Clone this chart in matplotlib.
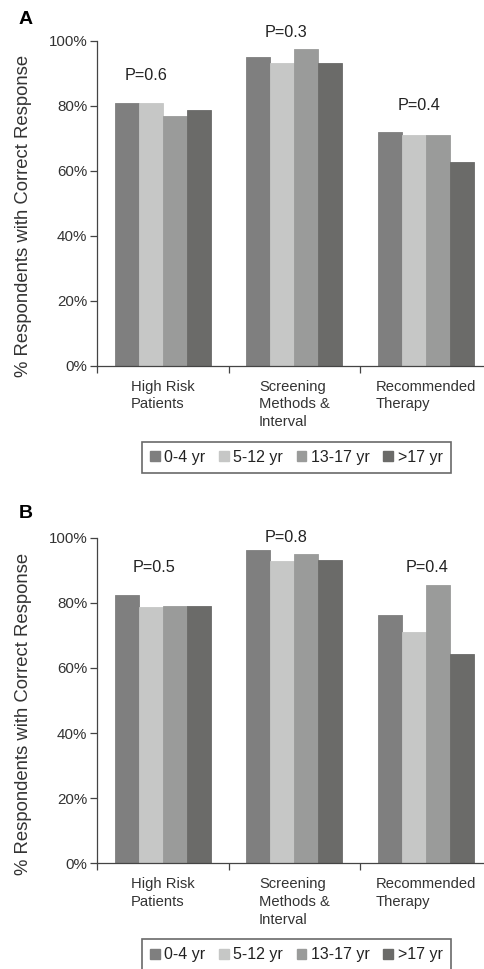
import matplotlib
matplotlib.use('Agg')
import matplotlib.pyplot as plt
import numpy as np
from matplotlib.patches import Patch

plt.rcParams['font.family'] = ['Liberation Sans', 'DejaVu Sans']

categories = ['High Risk\nPatients', 'Screening\nMethods &\nInterval', 'Recommended\nTherapy']
groups = ['0-4 yr', '5-12 yr', '13-17 yr', '>17 yr']
colors = ['#7f7f7f', '#c6c7c6', '#9a9b9a', '#6b6b69']

# panel A values (% correct), one list per age group
a_04 = [80.9, 95.1, 71.8]
a_512 = [80.9, 93.2, 71.0]
a_1317 = [76.9, 97.4, 71.0]
a_17 = [78.7, 93.2, 62.8]
a_pvals = ['P=0.6', 'P=0.3', 'P=0.4']

# panel B values
b_04 = [82.5, 96.3, 76.2]
b_512 = [78.8, 92.9, 71.1]
b_1317 = [79.1, 94.9, 85.5]
b_17 = [79.1, 93.2, 64.4]
b_pvals = ['P=0.5', 'P=0.8', 'P=0.4']

# where the P labels sit (x in category units, y in %)
a_ppos = [(0.37, 89.2), (1.44, 102.6), (2.45, 80.1)]
b_ppos = [(0.43, 90.7), (1.44, 99.9), (2.51, 90.7)]

fig = plt.figure(figsize=(4.84, 9.69), dpi=100)

def draw_panel(ax, series, pvals, ppos, ylab_y):
    x = np.arange(len(categories)) + 0.5
    w = 0.1825
    for i, vals in enumerate(series):
        ax.bar(x + (i - 1.5) * w, vals, width=w, color=colors[i],
               edgecolor=colors[i], linewidth=0.6)
    ax.set_xlim(0, 3)
    ax.set_ylim(0, 100)
    ax.spines['top'].set_visible(False)
    ax.spines['right'].set_visible(False)
    for s in ['left', 'bottom']:
        ax.spines[s].set_color('#444444')
        ax.spines[s].set_linewidth(0.9)
    ax.set_yticks(range(0, 101, 20))
    ax.set_yticklabels(['%d%%' % v for v in range(0, 101, 20)])
    ax.tick_params(axis='y', length=5, width=0.9, color='#444444',
                   labelsize=10.9, labelcolor='#333333', pad=2)
    ax.set_xticks([0, 1, 2])
    ax.set_xticklabels([])
    ax.tick_params(axis='x', which='major', length=5, width=0.9, color='#444444')
    ax.set_xticks(x, minor=True)
    ax.set_xticklabels(categories, minor=True, fontsize=10.6, color='#333333',
                       multialignment='left', linespacing=1.35)
    ax.tick_params(axis='x', which='minor', length=0, pad=10)
    ax.set_ylabel('% Respondents with Correct Response', fontsize=13.3, color='#333333')
    ax.yaxis.set_label_coords(-0.1655, ylab_y)
    for t, (px, py) in zip(pvals, ppos):
        ax.text(px, py, t, ha='center', va='center', fontsize=11.7,
                color='#222222', clip_on=False)

axA = fig.add_axes([97 / 484, 603.3 / 969, 394.5 / 484, 325 / 969])
draw_panel(axA, [a_04, a_512, a_1317, a_17], a_pvals, a_ppos, 0.46)
axB = fig.add_axes([97 / 484, 105.7 / 969, 394.5 / 484, 325.7 / 969])
draw_panel(axB, [b_04, b_512, b_1317, b_17], b_pvals, b_ppos, 0.458)

fig.text(19 / 484, 1 - 20 / 969, 'A', fontsize=14, fontweight='bold', va='center', ha='left')
fig.text(19 / 484, 1 - 513 / 969, 'B', fontsize=14, fontweight='bold', va='center', ha='left')

handles = [Patch(facecolor=c, edgecolor=c) for c in colors]
for top in [441.7, 939.3]:
    leg = fig.legend(handles, groups, loc='upper left',
                     bbox_to_anchor=(142 / 484, 1 - top / 969), borderaxespad=0,
                     ncol=4, fontsize=11.5, handlelength=0.6, handleheight=0.6,
                     handletextpad=0.3, columnspacing=0.85, borderpad=0.5,
                     fancybox=False, frameon=True)
    leg.get_frame().set_edgecolor('#444444')
    leg.get_frame().set_linewidth(1.2)
    for t in leg.get_texts():
        t.set_color('#222222')

fig.savefig('out.png', dpi=100)
